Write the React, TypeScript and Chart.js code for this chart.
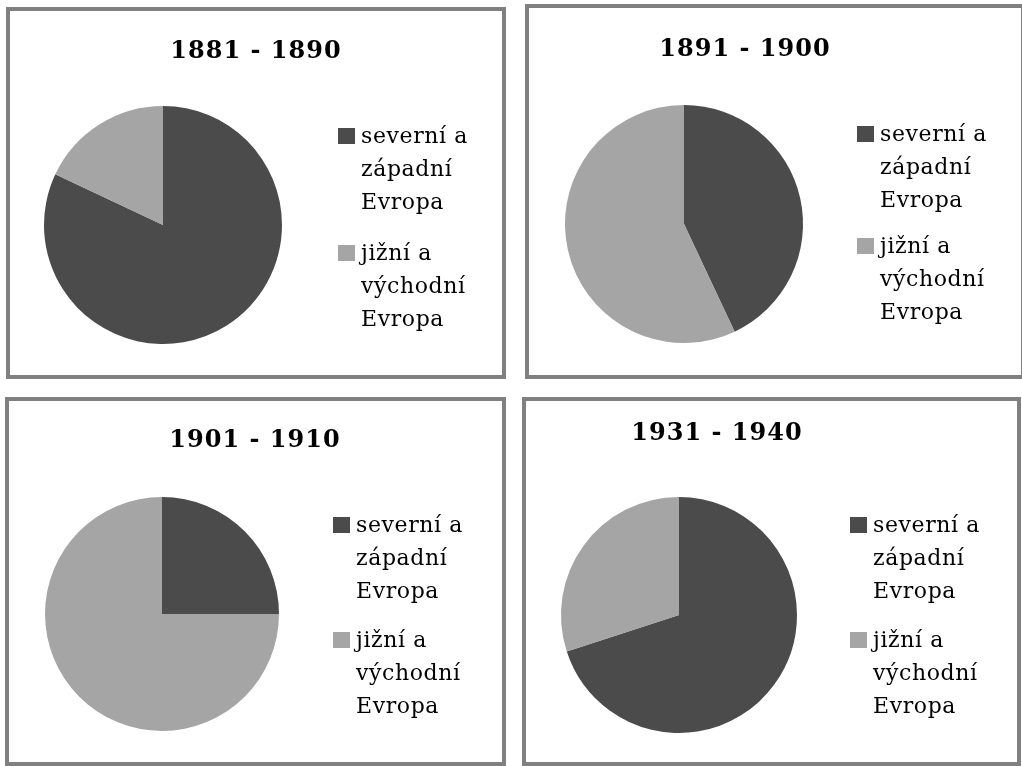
import { useEffect, useRef } from 'react';
import { Chart, registerables } from 'chart.js';

Chart.register(...registerables);

// ---- data ----
const regionLabels: string[][] = [
  ['severní a', 'západní', 'Evropa'],
  ['jižní a', 'východní', 'Evropa'],
];
const periods: string[] = ['1881 - 1890', '1891 - 1900', '1901 - 1910', '1931 - 1940'];
const northWestShare: number[] = [82, 43, 25, 70];
const southEastShare: number[] = [18, 57, 75, 30];
const sliceColors: string[] = ['#4b4b4b', '#a5a5a5'];

// ---- layout (page pixels) ----
type PanelLayout = {
  left: number; top: number; width: number; height: number;
  cx: number; cy: number; r: number;
  titleX: number; titleY: number;
  legendX: number; legendY: number; itemGap: number;
};
const BORDER = 4;
const panelLayouts: PanelLayout[] = [
  { left: 6, top: 7, width: 500, height: 372, cx: 163, cy: 225, r: 119, titleX: 256, titleY: 52, legendX: 338, legendY: 128, itemGap: 117 },
  { left: 525, top: 4, width: 500, height: 375, cx: 684, cy: 224, r: 119, titleX: 745, titleY: 50, legendX: 857, legendY: 126, itemGap: 112 },
  { left: 5, top: 397, width: 501, height: 369, cx: 162, cy: 614, r: 117, titleX: 255, titleY: 441, legendX: 333, legendY: 517, itemGap: 115 },
  { left: 522, top: 397, width: 499, height: 369, cx: 679, cy: 615, r: 118, titleX: 717, titleY: 434, legendX: 850, legendY: 517, itemGap: 115 },
];

const overlayPlugin = {
  id: 'overlay',
  afterDraw(chart: any, _args: any, opts: any) {
    const ctx: CanvasRenderingContext2D = chart.ctx;
    ctx.save();
    ctx.fillStyle = '#000';
    ctx.textAlign = 'center';
    ctx.textBaseline = 'middle';
    ctx.font = 'bold 24px "DejaVu Serif"';
    (ctx as any).letterSpacing = '1px';
    ctx.fillText(opts.title, opts.titleX, opts.titleY);

    const labels = chart.data.labels as string[][];
    const bg = chart.data.datasets[0].backgroundColor as string[];
    ctx.font = '22px "DejaVu Serif"';
    (ctx as any).letterSpacing = '0.6px';
    ctx.textAlign = 'left';
    labels.forEach((lines, i) => {
      const top = opts.legendY + i * opts.itemGap;
      ctx.fillStyle = bg[i];
      ctx.fillRect(opts.legendX, top, 17, 16);
      ctx.fillStyle = '#000';
      lines.forEach((line, j) => {
        ctx.fillText(line, opts.legendX + 23, top + 9 + j * 33);
      });
    });
    ctx.restore();
  },
};

function PiePanel({ index }: { index: number }) {
  const ref = useRef<HTMLCanvasElement | null>(null);
  const L = panelLayouts[index];
  const innerW = L.width - 2 * BORDER;
  const innerH = L.height - 2 * BORDER;
  const ox = L.left + BORDER;
  const oy = L.top + BORDER;

  useEffect(() => {
    if (!ref.current) return;
    const cx = L.cx - ox;
    const cy = L.cy - oy;
    const chart = new Chart(ref.current, {
      type: 'pie',
      data: {
        labels: regionLabels as any,
        datasets: [
          {
            data: [northWestShare[index], southEastShare[index]],
            backgroundColor: sliceColors,
            borderWidth: 0,
            hoverOffset: 0,
          },
        ],
      },
      options: {
        responsive: false,
        animation: false,
        devicePixelRatio: 1,
        layout: {
          padding: {
            left: cx - L.r,
            top: cy - L.r,
            right: innerW - cx - L.r,
            bottom: innerH - cy - L.r,
          },
        },
        plugins: {
          legend: { display: false },
          title: { display: false },
          tooltip: { enabled: false },
          overlay: {
            title: periods[index],
            titleX: L.titleX - ox,
            titleY: L.titleY - oy,
            legendX: L.legendX - ox,
            legendY: L.legendY - oy,
            itemGap: L.itemGap,
          },
        } as any,
      },
      plugins: [overlayPlugin],
    });
    return () => chart.destroy();
  }, [index]);

  return (
    <div
      style={{
        position: 'absolute',
        left: L.left,
        top: L.top,
        width: L.width,
        height: L.height,
        border: `${BORDER}px solid #808080`,
        boxSizing: 'border-box',
        background: '#fff',
      }}
    >
      <canvas ref={ref} width={innerW} height={innerH} style={{ display: 'block', width: innerW, height: innerH }} />
    </div>
  );
}

export default function App() {
  return (
    <div style={{ position: 'fixed', left: 0, top: 0, width: 1022, height: 766, overflow: 'hidden', background: '#fff' }}>
      {periods.map((_, i) => (
        <PiePanel key={i} index={i} />
      ))}
    </div>
  );
}
